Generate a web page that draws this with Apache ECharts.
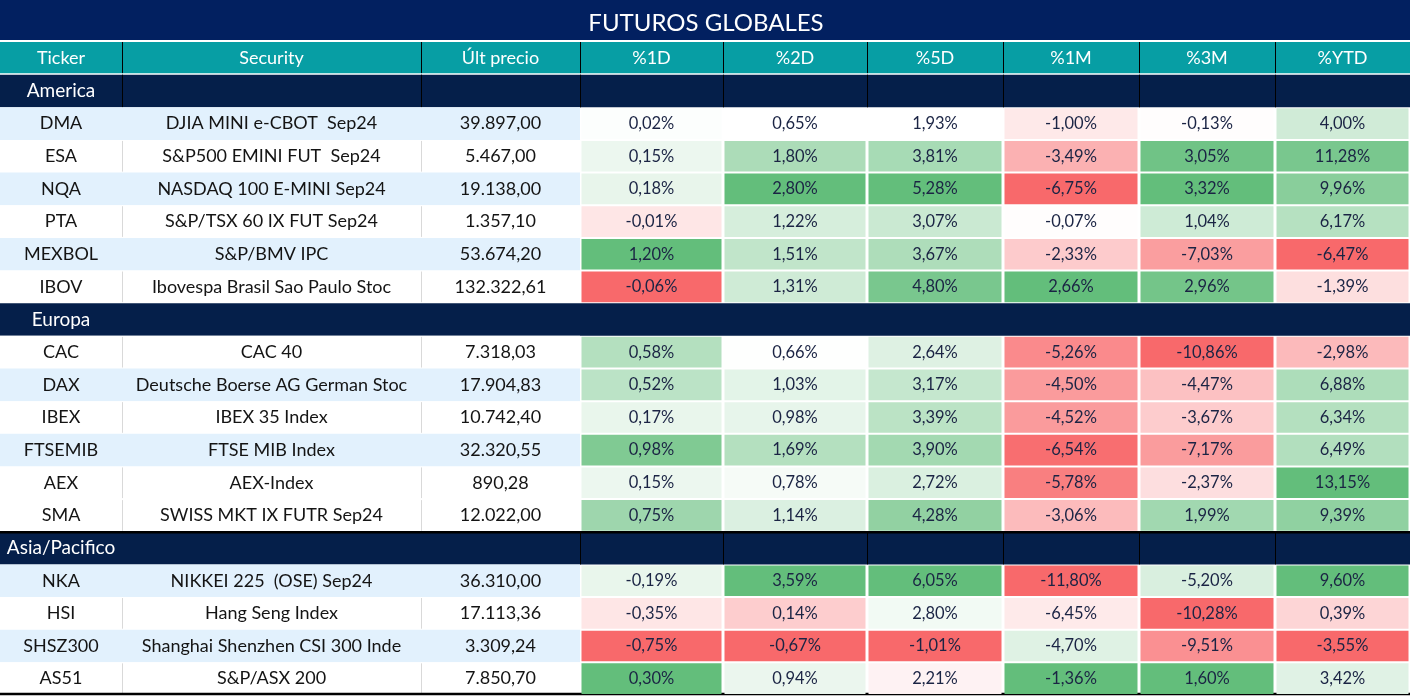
<!DOCTYPE html>
<html><head><meta charset="utf-8">
<script src="https://cdn.jsdelivr.net/npm/echarts@6/dist/echarts.min.js"></script>
<style>html,body{margin:0;padding:0;background:#fff}#c{width:1412px;height:697px}</style>
</head><body><div id="c"></div>
<script>
// ---------------- DATA ----------------
const title = 'FUTUROS GLOBALES';
const columns = ['Ticker', 'Security', 'Últ precio', '%1D', '%2D', '%5D', '%1M', '%3M', '%YTD'];
const sections = ['America', 'Europa', 'Asia/Pacifico'];
const sectionSizes = [6, 6, 4];
const tickers = ['DMA', 'ESA', 'NQA', 'PTA', 'MEXBOL', 'IBOV',
  'CAC', 'DAX', 'IBEX', 'FTSEMIB', 'AEX', 'SMA',
  'NKA', 'HSI', 'SHSZ300', 'AS51'];
const securities = ['DJIA MINI e-CBOT  Sep24', 'S&P500 EMINI FUT  Sep24', 'NASDAQ 100 E-MINI Sep24',
  'S&P/TSX 60 IX FUT Sep24', 'S&P/BMV IPC', 'Ibovespa Brasil Sao Paulo Stoc',
  'CAC 40', 'Deutsche Boerse AG German Stoc', 'IBEX 35 Index', 'FTSE MIB Index', 'AEX-Index',
  'SWISS MKT IX FUTR Sep24',
  'NIKKEI 225  (OSE) Sep24', 'Hang Seng Index', 'Shanghai Shenzhen CSI 300 Inde', 'S&P/ASX 200'];
const prices = [39897.00, 5467.00, 19138.00, 1357.10, 53674.20, 132322.61,
  7318.03, 17904.83, 10742.40, 32320.55, 890.28, 12022.00,
  36310.00, 17113.36, 3309.24, 7850.70];
const chg1D = [0.02, 0.15, 0.18, -0.01, 1.20, -0.06, 0.58, 0.52, 0.17, 0.98, 0.15, 0.75, -0.19, -0.35, -0.75, 0.30];
const chg2D = [0.65, 1.80, 2.80, 1.22, 1.51, 1.31, 0.66, 1.03, 0.98, 1.69, 0.78, 1.14, 3.59, 0.14, -0.67, 0.94];
const chg5D = [1.93, 3.81, 5.28, 3.07, 3.67, 4.80, 2.64, 3.17, 3.39, 3.90, 2.72, 4.28, 6.05, 2.80, -1.01, 2.21];
const chg1M = [-1.00, -3.49, -6.75, -0.07, -2.33, 2.66, -5.26, -4.50, -4.52, -6.54, -5.78, -3.06, -11.80, -6.45, -4.70, -1.36];
const chg3M = [-0.13, 3.05, 3.32, 1.04, -7.03, 2.96, -10.86, -4.47, -3.67, -7.17, -2.37, 1.99, -5.20, -10.28, -9.51, 1.60];
const chgYTD = [4.00, 11.28, 9.96, 6.17, -6.47, -1.39, -2.98, 6.88, 6.34, 6.49, 13.15, 9.39, 9.60, 0.39, -3.55, 3.42];
const changeSeries = [chg1D, chg2D, chg5D, chg1M, chg3M, chgYTD];

// ---------------- LAYOUT / STYLE ----------------
const EDGES = [0, 122, 421, 580, 723, 867, 1003, 1139, 1275, 1410];
const TITLE_BG = '#022060';
const HEADER_BG = '#079ea4';
const SECTION_BG = '#051f4a';
const SHADE_BG = '#e2f1fd';
const TEXT_DARK = '#141414';
const PCT_TEXT = '#1b2444';
const FONT = 'Lato, "Noto Sans", sans-serif';
const SHADED = new Set(['DMA', 'NQA', 'MEXBOL', 'DAX', 'FTSEMIB', 'NKA', 'SHSZ300']);
const SECTION_DIVIDERS = [[1, 2, 3, 4, 5, 6, 7, 8], [], [3, 4, 5, 6, 7, 8]];
// Conditional-format colour scale groups (sections sharing a scale, midpoint rule)
const SCALE_GROUPS = [{ sections: [0, 1], mid: 'zero' }, { sections: [2], mid: 'median' }];
const RED = [248, 105, 107], WHITE = [255, 255, 255], GREEN = [99, 190, 123];

// ---------------- BUILD ----------------
const ROWS = [{ kind: 'header', key: 'header' }];
let di = 0;
const sectionOfData = [];
sections.forEach((s, si) => {
  ROWS.push({ kind: 'section', key: s, si });
  for (let k = 0; k < sectionSizes[si]; k++) {
    ROWS.push({ kind: 'data', key: tickers[di], i: di, si });
    sectionOfData.push(si);
    di++;
  }
});
const lastRow = ROWS.length - 1;

function fmtNum(v) {
  const neg = v < 0;
  const s = Math.abs(v).toFixed(2);
  let [ip, dp] = s.split('.');
  ip = ip.replace(/\B(?=(\d{3})+(?!\d))/g, '.');
  return (neg ? '-' : '') + ip + ',' + dp;
}
function lerp(a, b, t) {
  t = Math.max(0, Math.min(1, t));
  return 'rgb(' + a.map((x, k) => Math.round(x + (b[k] - x) * t)).join(',') + ')';
}
function median(arr) {
  const s = arr.slice().sort((a, b) => a - b);
  const n = s.length;
  return n % 2 ? s[(n - 1) / 2] : (s[n / 2 - 1] + s[n / 2]) / 2;
}
// compute cell colours from the values (3-colour scale per group)
const cellColors = changeSeries.map(ser => ser.map(() => '#fff'));
changeSeries.forEach((ser, c) => {
  SCALE_GROUPS.forEach(g => {
    const idx = ser.map((v, i) => i).filter(i => g.sections.includes(sectionOfData[i]));
    const vals = idx.map(i => ser[i]);
    const mn = Math.min(...vals), mx = Math.max(...vals);
    let mid = g.mid === 'zero' ? Math.max(mn, Math.min(mx, 0)) : median(vals);
    idx.forEach(i => {
      const v = ser[i];
      if (v >= mid) cellColors[c][i] = lerp(WHITE, GREEN, mx > mid ? (v - mid) / (mx - mid) : 0);
      else cellColors[c][i] = lerp(WHITE, RED, mid > mn ? (mid - v) / (mid - mn) : 0);
    });
  });
});

function txt(x, y, text, fill, size, weight) {
  return {
    type: 'text', x: x, y: y,
    style: {
      text: text, fill: fill, font: (weight || 'normal') + ' ' + size + 'px ' + FONT,
      align: 'center', verticalAlign: 'middle', textAlign: 'center', textVerticalAlign: 'middle'
    }
  };
}
function rect(x, y, w, h, fill) {
  return { type: 'rect', shape: { x: x, y: y, width: w, height: h }, style: { fill: fill } };
}
function vline(x, y0, y1, color, w) {
  return { type: 'line', shape: { x1: x, y1: y0, x2: x, y2: y1 }, style: { stroke: color, lineWidth: w || 1 } };
}
function hline(x0, x1, y, color, w) {
  return { type: 'line', shape: { x1: x0, y1: y, x2: x1, y2: y }, style: { stroke: color, lineWidth: w || 1 } };
}

function renderRow(params, api) {
  const ri = params.dataIndex;
  const row = ROWS[ri];
  const yc = api.coord([0, ri])[1];
  const h = api.size([0, 1])[1];
  const y0 = yc - h / 2, y1 = yc + h / 2;
  const X = EDGES.map(e => api.coord([e, ri])[0]);
  const ch = [];
  if (row.kind === 'header') {
    ch.push(rect(X[0], y0, X[9] - X[0], h - 1.5, HEADER_BG));
    for (let c = 1; c < 9; c++) ch.push(vline(X[c] + 0.5, y0, y1 - 1.5, '#000', 1));
    for (let c = 0; c < 9; c++) ch.push(txt((X[c] + X[c + 1]) / 2, yc - 0.5, columns[c], '#ffffff', 18));
  } else if (row.kind === 'section') {
    ch.push(rect(X[0], y0, X[9] - X[0], h, SECTION_BG));
    SECTION_DIVIDERS[row.si].forEach(c => ch.push(vline(X[c] + 0.5, y0, y1, '#000', 1)));
    ch.push(txt((X[0] + X[1]) / 2, yc, sections[row.si], '#ffffff', 19));
    if (row.si === 2) ch.push(hline(X[0], X[9], y0 + 0.5, '#000', 2.5));
  } else {
    const i = row.i;
    const bg = SHADED.has(tickers[i]) ? SHADE_BG : '#ffffff';
    ch.push(rect(X[0], y0, X[3] - X[0], h, bg));
    if (bg === '#ffffff') {
      ch.push(vline(X[1] + 0.5, y0 + 1, y1 - 1, '#d9d9d9', 1));
      ch.push(vline(X[2] + 0.5, y0 + 1, y1 - 1, '#d9d9d9', 1));
    }
    ch.push(txt((X[0] + X[1]) / 2, yc, tickers[i], TEXT_DARK, 18));
    ch.push(txt((X[1] + X[2]) / 2, yc, securities[i], TEXT_DARK, 18));
    ch.push(txt((X[2] + X[3]) / 2, yc, fmtNum(prices[i]), TEXT_DARK, 18));
    if (ri === lastRow) ch.push(hline(X[0], X[9], y1 - 1, '#000', 2.5));
  }
  return { type: 'group', children: ch };
}

function renderPct(params, api) {
  const c = api.value(0), ri = api.value(1), v = api.value(2), i = api.value(3);
  const yc = api.coord([0, ri])[1];
  const h = api.size([0, 1])[1];
  const xa = api.coord([EDGES[c], ri])[0], xb = api.coord([EDGES[c + 1], ri])[0];
  const fill = cellColors[c - 3][i];
  const ch = [
    rect(xa + 1.5, yc - h / 2 + 1, xb - xa - 3, h - 2, fill),
    txt((xa + xb) / 2, yc, fmtNum(v) + '%', PCT_TEXT, 16.5)
  ];
  return { type: 'group', children: ch };
}

const rowData = ROWS.map((r, k) => [0, k]);
const pctData = [];
ROWS.forEach((r, k) => {
  if (r.kind !== 'data') return;
  changeSeries.forEach((ser, c) => pctData.push([c + 3, k, ser[r.i], r.i]));
});

const chart = echarts.init(document.getElementById('c'), null, { renderer: 'canvas' });
chart.setOption({
  animation: false,
  backgroundColor: '#ffffff',
  title: {
    text: title, left: 'center', top: 6,
    textStyle: { color: '#ffffff', fontSize: 24, fontWeight: 'normal', fontFamily: FONT }
  },
  graphic: [{ type: 'rect', z: -1, shape: { x: 0, y: 0, width: 1410, height: 40 }, style: { fill: TITLE_BG } }],
  grid: { left: 0, top: 42, width: 1410, height: 653 },
  xAxis: { type: 'value', min: 0, max: 1410, show: false },
  yAxis: { type: 'category', data: ROWS.map(r => r.key), inverse: true, show: false },
  series: [
    { type: 'custom', renderItem: renderRow, data: rowData, encode: { x: 0, y: 1 }, clip: false, silent: true },
    { type: 'custom', renderItem: renderPct, data: pctData, encode: { x: 0, y: 1 }, clip: false, silent: true, z: 3 }
  ]
});
</script>
</body></html>
